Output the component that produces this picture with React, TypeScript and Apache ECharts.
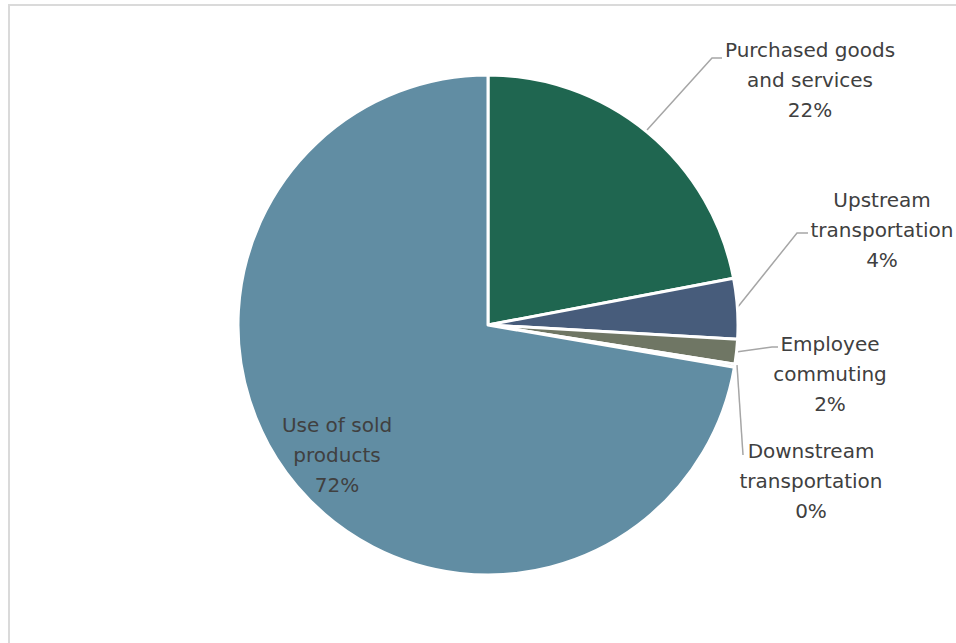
import React, { useEffect, useRef } from "react";
import * as echarts from "echarts";

const categories = [
  "Purchased goods\nand services",
  "Upstream\ntransportation",
  "Employee\ncommuting",
  "Downstream\ntransportation",
  "Use of sold\nproducts",
];
const values = [22.0, 3.9, 1.6, 0.2, 72.3];
const colors = ["#1F6650", "#475C7B", "#6F7664", "#A5A5A5", "#618DA3"];

// label placement (chart pixel coords)
const labelPos = [
  { x: 800, y: 74, line: [[637, 124], [702, 52], [712, 52]] },
  { x: 872, y: 224, line: [[727, 302], [787, 227], [798, 227]] },
  { x: 820, y: 368, line: [[726, 346], [762, 341], [768, 341]] },
  { x: 801, y: 475, line: [[727, 359], [733, 449], [733, 449]] },
  { x: 327, y: 449, line: null as null | number[][] },
];

export default function App() {
  const ref = useRef<HTMLDivElement>(null);
  useEffect(() => {
    if (!ref.current) return;
    const chart = echarts.init(ref.current, undefined, { renderer: "svg" });
    chart.setOption({
      animation: false,
      backgroundColor: "#ffffff",
      series: [
        {
          type: "pie",
          center: [478, 319],
          radius: 250,
          startAngle: 90,
          clockwise: true,
          percentPrecision: 0,
          avoidLabelOverlap: false,
          data: categories.map((name, i) => ({
            name,
            value: values[i],
            itemStyle: { color: colors[i] },
          })),
          itemStyle: { borderColor: "#ffffff", borderWidth: 3 },
          label: {
            show: true,
            formatter: "{b}\n{d}%",
            fontFamily: "DejaVu Sans",
            fontSize: 20,
            lineHeight: 30,
            color: "#404040",
            align: "center",
          },
          labelLine: {
            show: true,
            lineStyle: { color: "#A6A6A6", width: 1.5 },
            length: 10,
            length2: 10,
          },
          labelLayout: (params: any) => {
            const p = labelPos[params.dataIndex];
            const out: any = {
              x: p.x,
              y: p.y,
              align: "center",
              verticalAlign: "middle",
            };
            if (p.line) out.labelLinePoints = p.line;
            return out;
          },
        },
      ],
    });
    return () => chart.dispose();
  }, []);
  return (
    <div
      style={{
        position: "fixed",
        left: 8,
        top: 4,
        width: 960,
        height: 660,
        borderLeft: "2px solid #DADADA",
        borderTop: "2px solid #DADADA",
        background: "#fff",
      }}
    >
      <div ref={ref} style={{ width: 946, height: 637 }} />
    </div>
  );
}
